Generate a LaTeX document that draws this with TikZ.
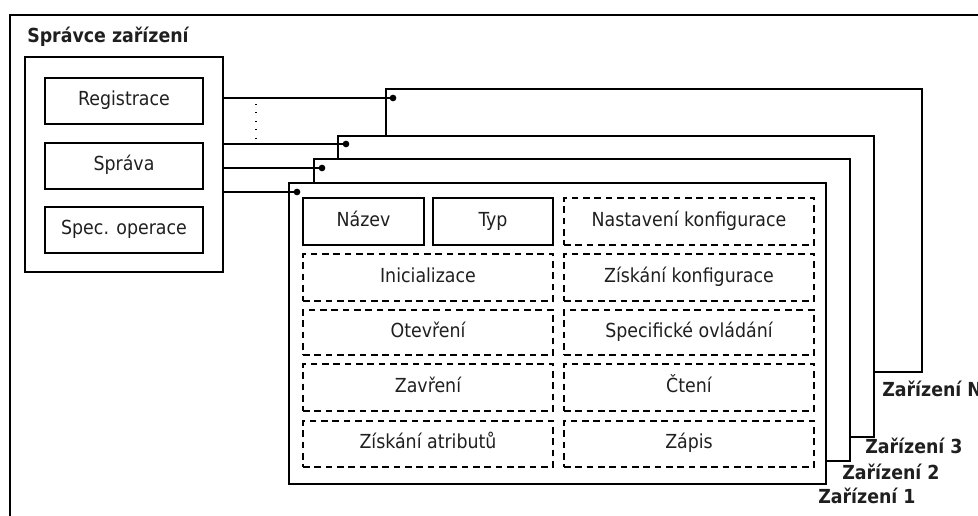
\documentclass[tikz,border=0pt]{standalone}
\usepackage{fontspec}
\setmainfont{DejaVu Sans Condensed}
\usetikzlibrary{fit}
\begin{document}
\begin{tikzpicture}[x=0.75pt,y=-0.75pt,
  txt/.style={font=\fontsize{14.5}{18}\selectfont, inner sep=0pt, text height=0.95em, text depth=0.22em, text=black!88},
  solidbox/.style={draw, line width=1pt, inner sep=0pt},
  dashbox/.style={draw, line width=0.8pt, dash pattern=on 5pt off 3.5pt, inner sep=0pt},
  devframe/.style={draw, fill=white, line width=1pt, inner sep=0pt},
  lbl/.style={txt, font=\bfseries\fontsize{14.5}{18}\selectfont, anchor=west},
  conn/.style={line width=1pt},
  dotnode/.style={circle, fill=black, inner sep=0pt, minimum size=5pt},
  outer/.style={line width=1.5pt}]
\useasboundingbox (0,0) rectangle (978,516);
% outer open frame
\coordinate (ofb) at (10,516);
\coordinate (otl) at (10,15);
\coordinate (otr) at (978,15);
\draw[outer] (ofb) -- (otl) -- (otr);
\node[lbl] (title) at (27,38) {Správce zařízení};
% manager
\node[solidbox, fit={(25,57) (223,272)}] (mgr) {};
\node[solidbox, fit={(45,78) (203,124)}, label={[txt]center:Registrace}] (reg) {};
\node[solidbox, fit={(45,143) (203,189)}, label={[txt]center:Správa}] (spr) {};
\node[solidbox, fit={(45,207) (203,253)}, label={[txt]center:Spec. operace}] (spec) {};
% device frames
\node[devframe, fit={(386,89) (922,372)}] (devN) {};
\node[devframe, fit={(338,136) (874,437)}] (dev3) {};
\node[devframe, fit={(314,159) (850,461)}] (dev2) {};
\node[devframe, fit={(289,183) (826,484)}] (dev1) {};
% inner content of device 1
\node[solidbox, fit={(303,198) (424,245)}, label={[txt]center:Název}] (naz) {};
\node[solidbox, fit={(433,198) (553,245)}, label={[txt]center:Typ}] (typ) {};
\node[dashbox, fit={(303,254) (553,301)}, label={[txt]center:Inicializace}] (ini) {};
\node[dashbox, fit={(303,310) (553,355)}, label={[txt]center:Otevření}] (ote) {};
\node[dashbox, fit={(303,364) (553,411)}, label={[txt]center:Zavření}] (zav) {};
\node[dashbox, fit={(303,421) (553,467)}, label={[txt]center:Získání atributů}] (atr) {};
\node[dashbox, fit={(564,198) (814,245)}, label={[txt]center:Nastavení konfigurace}] (nas) {};
\node[dashbox, fit={(564,254) (814,301)}, label={[txt]center:Získání konfigurace}] (zis) {};
\node[dashbox, fit={(564,310) (814,355)}, label={[txt]center:Specifické ovládání}] (ovl) {};
\node[dashbox, fit={(564,364) (814,411)}, label={[txt]center:Čtení}] (cte) {};
\node[dashbox, fit={(564,421) (814,467)}, label={[txt]center:Zápis}] (zap) {};
% connector dots
\node[dotnode] (dN) at (393,98) {};
\node[dotnode] (d3) at (346,144) {};
\node[dotnode] (d2) at (322,168) {};
\node[dotnode] (d1) at (297,192) {};
\draw[conn] (mgr.east |- dN) -- (dN.center);
\draw[conn] (mgr.east |- d3) -- (d3.center);
\draw[conn] (mgr.east |- d2) -- (d2.center);
\draw[conn] (mgr.east |- d1) -- (d1.center);
% vertical ellipsis
\coordinate (ea) at (256,104);
\coordinate (eb) at (256,140);
\draw[line width=1pt, dash pattern=on 0.8pt off 5.5pt] (ea) -- (eb);
% labels
\node[lbl] (lN) at (882,392) {Zařízení N};
\node[lbl] (l3) at (865,449) {Zařízení 3};
\node[lbl] (l2) at (842,475) {Zařízení 2};
\node[lbl] (l1) at (818,499) {Zařízení 1};
\end{tikzpicture}
\end{document}
